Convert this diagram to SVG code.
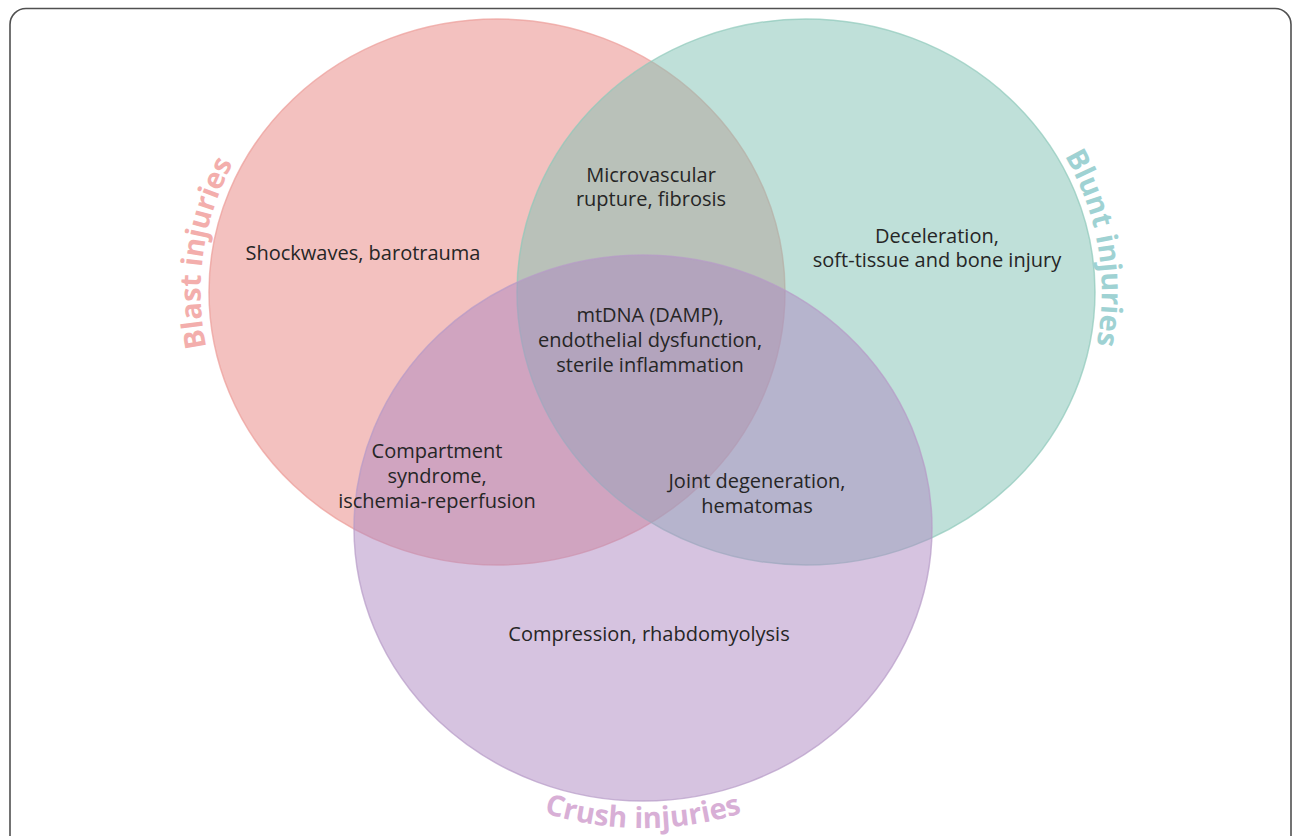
<svg xmlns="http://www.w3.org/2000/svg" width="1292" height="836" viewBox="0 0 1292 836">
  <style>
    .body { font-family: "Open Sans", "Noto Sans", sans-serif; font-size: 20px; fill: #262626; text-anchor: middle; }
    .lbl { font-family: "Open Sans", "Noto Sans", sans-serif; font-size: 29px; font-weight: bold; text-anchor: middle; }
    .set { stroke-width: 1.5; }
  </style>
  <defs>
    <path id="pBlast" d="M 246.7 442 A 296 281 0 0 1 298 83"/>
    <path id="pBlunt" d="M 1001 81 A 296 281 0 0 1 1060 436"/>
    <path id="pCrush" d="M 437 756 A 316 298 0 0 0 849 756"/>
  </defs>
  <rect x="0" y="0" width="1292" height="836" fill="#ffffff"/>
  <rect x="10" y="8.5" width="1281" height="900" rx="16" ry="16" fill="none" stroke="#505050" stroke-width="1.6"/>

  <g id="blast">
    <ellipse class="set" cx="497" cy="292" rx="288" ry="273" fill="rgb(231,131,127)" fill-opacity="0.5" stroke="#ec9d99" stroke-opacity="0.7"/>
  </g>
  <g id="blunt">
    <ellipse class="set" cx="806" cy="292" rx="289" ry="273" fill="rgb(127,193,179)" fill-opacity="0.5" stroke="#8fc9bb" stroke-opacity="0.7"/>
  </g>
  <g id="crush">
    <ellipse class="set" cx="643" cy="528" rx="289" ry="273" fill="rgb(173,135,193)" fill-opacity="0.5" stroke="#b79bc8" stroke-opacity="0.7"/>
  </g>

  <g id="labels">
    <text class="lbl" fill="#f3aeac"><textPath href="#pBlast" startOffset="50%">Blast injuries</textPath></text>
    <text class="lbl" fill="#9fd2d3"><textPath href="#pBlunt" startOffset="50%">Blunt injuries</textPath></text>
    <text class="lbl" fill="#d8afd6"><textPath href="#pCrush" startOffset="50%">Crush injuries</textPath></text>
  </g>

  <g id="texts">
    <text class="body" x="363" y="260">Shockwaves, barotrauma</text>
    <text class="body" x="651" y="182">Microvascular</text>
    <text class="body" x="651" y="206">rupture, fibrosis</text>
    <text class="body" x="937" y="243">Deceleration,</text>
    <text class="body" x="937" y="267">soft-tissue and bone injury</text>
    <text class="body" x="650" y="322">mtDNA (DAMP),</text>
    <text class="body" x="650" y="347">endothelial dysfunction,</text>
    <text class="body" x="650" y="372">sterile inflammation</text>
    <text class="body" x="437" y="458">Compartment</text>
    <text class="body" x="437" y="483">syndrome,</text>
    <text class="body" x="437" y="508">ischemia-reperfusion</text>
    <text class="body" x="757" y="488">Joint degeneration,</text>
    <text class="body" x="757" y="513">hematomas</text>
    <text class="body" x="649" y="641">Compression, rhabdomyolysis</text>
  </g>
</svg>
